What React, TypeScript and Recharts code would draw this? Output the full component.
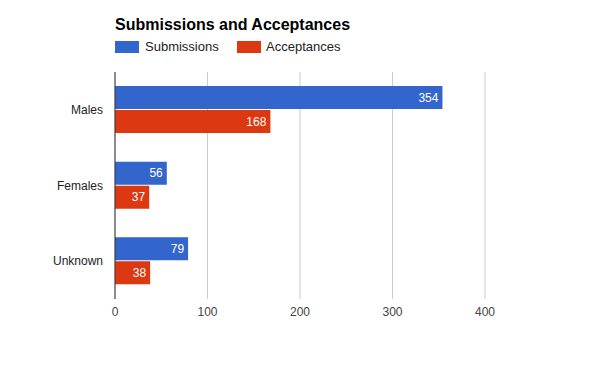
import { BarChart, Bar, XAxis, YAxis, CartesianGrid, LabelList } from "recharts";

const categories = ["Males", "Females", "Unknown"];
const submissions = [354, 56, 79];
const acceptances = [168, 37, 38];
const xTicks = [0, 100, 200, 300, 400];

const data = categories.map((name, i) => ({
  name,
  submissions: submissions[i],
  acceptances: acceptances[i],
}));

const FONT = "Arial, 'Liberation Sans', sans-serif";

export default function App() {
  return (
    <div
      style={{
        position: "absolute",
        left: 0,
        top: 0,
        width: 600,
        height: 371,
        background: "#fff",
        fontFamily: FONT,
      }}
    >
      {/* title */}
      <div
        style={{
          position: "absolute",
          left: 115,
          top: 15,
          fontSize: 16,
          fontWeight: "bold",
          color: "#000",
          lineHeight: "20px",
        }}
      >
        Submissions and Acceptances
      </div>

      {/* legend */}
      <div
        style={{
          position: "absolute",
          left: 115,
          top: 39,
          display: "flex",
          alignItems: "center",
          fontSize: 13,
          color: "#222",
          lineHeight: "15px",
        }}
      >
        <span style={{ width: 24, height: 12, background: "#3366cc", display: "inline-block" }} />
        <span style={{ marginLeft: 6, width: 92 }}>Submissions</span>
        <span style={{ width: 24, height: 12, background: "#dc3912", display: "inline-block" }} />
        <span style={{ marginLeft: 5 }}>Acceptances</span>
      </div>

      <BarChart
        width={600}
        height={371}
        data={data}
        layout="vertical"
        margin={{ top: 72, right: 115, bottom: 42, left: 0 }}
        barSize={23}
        barGap={1}
      >
        <CartesianGrid horizontal={false} stroke="#cccccc" />
        <XAxis
          type="number"
          domain={[0, 400]}
          ticks={xTicks}
          axisLine={false}
          tickLine={false}
          height={30}
          tick={{ fill: "#444", fontSize: 12, fontFamily: FONT }}
        />
        <YAxis
          type="category"
          dataKey="name"
          width={115}
          axisLine={{ stroke: "#333" }}
          tickLine={false}
          tickMargin={6}
          tick={{ fill: "#222", fontSize: 12, fontFamily: FONT }}
        />
        <Bar dataKey="submissions" fill="#3366cc" isAnimationActive={false}>
          <LabelList
            dataKey="submissions"
            position="insideRight"
            offset={4}
            fill="#fff"
            style={{ fontSize: 12, fontFamily: FONT }}
          />
        </Bar>
        <Bar dataKey="acceptances" fill="#dc3912" isAnimationActive={false}>
          <LabelList
            dataKey="acceptances"
            position="insideRight"
            offset={4}
            fill="#fff"
            style={{ fontSize: 12, fontFamily: FONT }}
          />
        </Bar>
      </BarChart>
    </div>
  );
}
